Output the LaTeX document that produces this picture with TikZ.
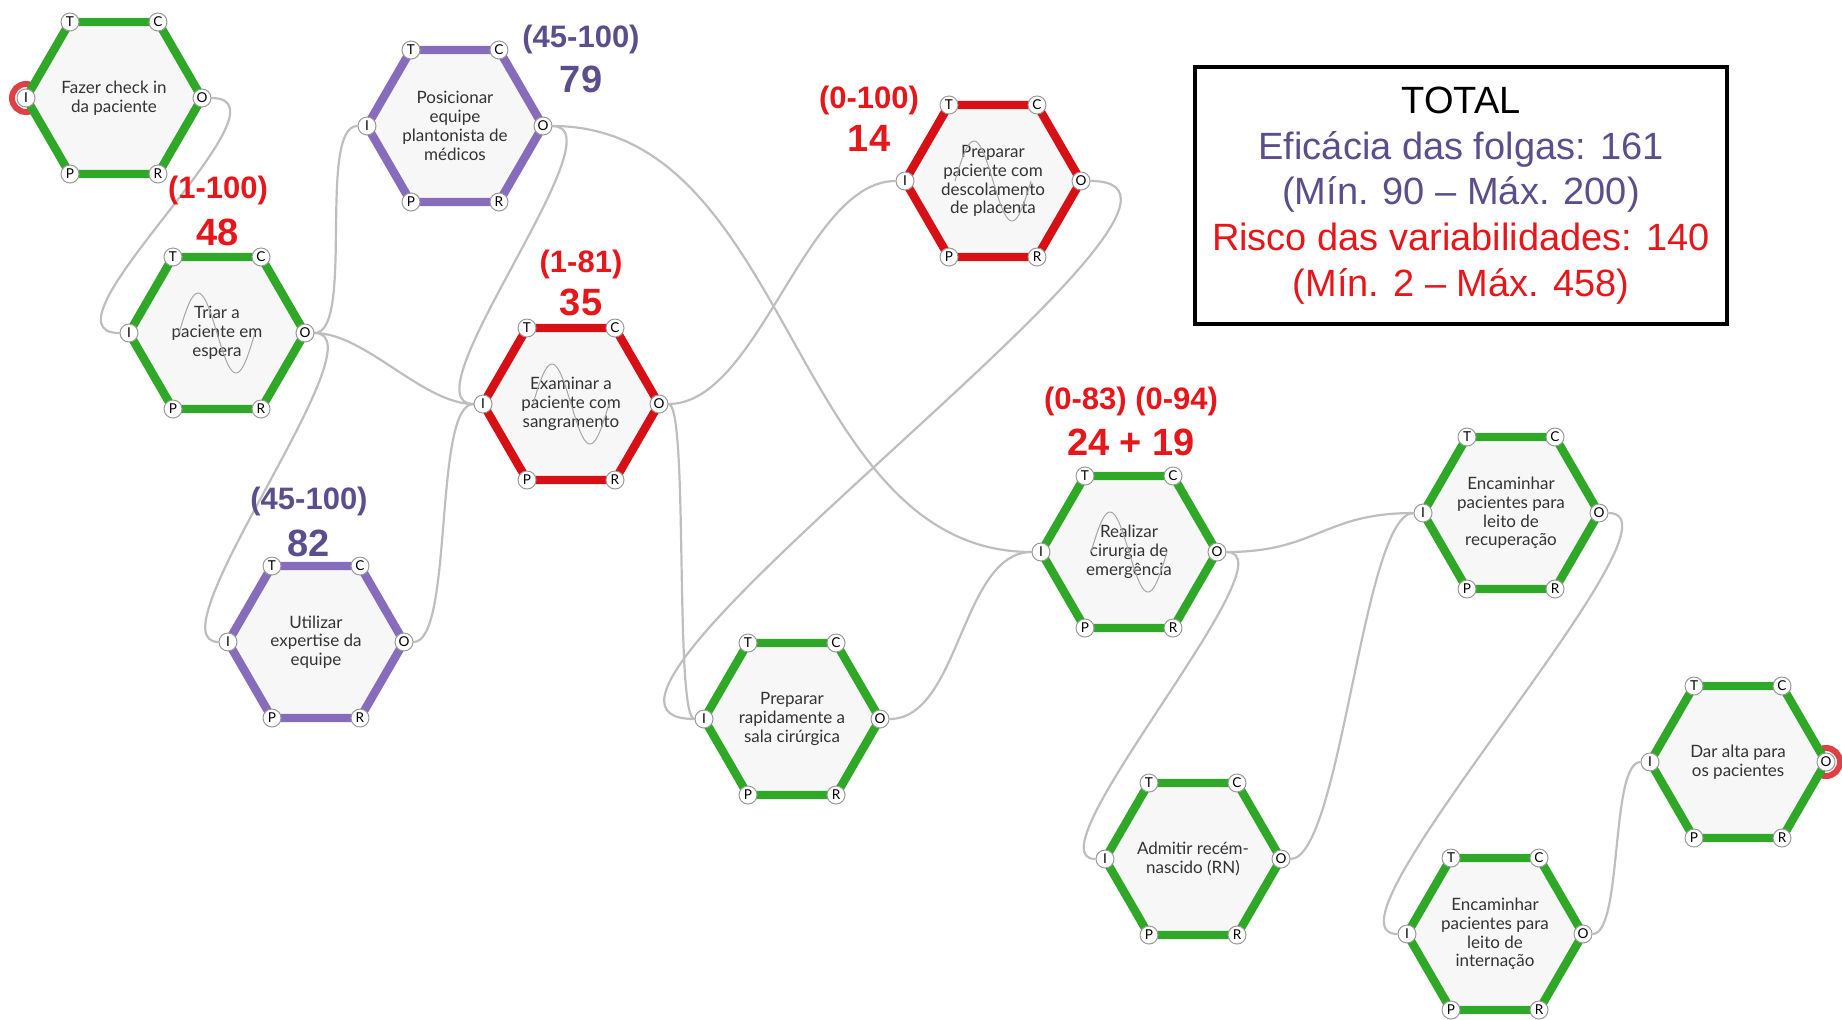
\documentclass[tikz,border=0pt]{standalone}
\usepackage{fontspec}
\setmainfont{Liberation Sans}
\newfontfamily\hexfont{Lato}
\usetikzlibrary{backgrounds}
\definecolor{hexgreen}{RGB}{46,168,38}
\definecolor{hexpurple}{RGB}{136,108,188}
\definecolor{hexred}{RGB}{214,16,20}
\definecolor{txtpurple}{RGB}{92,78,140}
\definecolor{txtred}{RGB}{230,22,26}
\definecolor{hexfill}{RGB}{247,247,247}
\definecolor{linkgray}{RGB}{190,190,190}

\begin{document}
\begin{tikzpicture}[x=0.5pt, y=-0.5pt,
    port/.style={circle, draw=gray!80, fill=white, line width=0.5pt, inner sep=0pt,
      minimum size=9pt, font=\hexfont\fontsize{6.8}{6.8}\selectfont},
    link/.style={draw=linkgray, line width=1.1pt},
    wave/.style={draw=gray!70, line width=0.5pt},
    rangetext/.style={font=\bfseries\fontsize{15.5}{15.5}\selectfont},
    scoretext/.style={font=\bfseries\fontsize{19}{19}\selectfont}]
    \useasboundingbox (0,0) rectangle (1842,1019);

    % functions (hexagons with their six aspects)
    \foreach \n/\x/\y/\c/\t in {
        fazer/114/98/hexgreen/{Fazer check in\\da paciente},
        triar/217/333/hexgreen/{Triar a\\paciente em\\espera},
        posic/455/126/hexpurple/{Posicionar\\equipe\\plantonista de\\médicos},
        util/316/642/hexpurple/{Utilizar\\expertise da\\equipe},
        exam/571/404/hexred/{Examinar a\\paciente com\\sangramento},
        placenta/993/181/hexred/{Preparar\\paciente com\\descolamento\\de placenta},
        sala/792/719/hexgreen/{Preparar\\rapidamente a\\sala cirúrgica},
        cirurgia/1129/552/hexgreen/{Realizar\\cirurgia de\\emergência},
        recup/1511/513/hexgreen/{Encaminhar\\pacientes para\\leito de\\recuperação},
        rn/1193/859/hexgreen/{Admitir recém-\\nascido (RN)},
        intern/1495/934/hexgreen/{Encaminhar\\pacientes para\\leito de\\internação},
        alta/1738/762/hexgreen/{Dar alta para\\os pacientes}}{
        \draw[draw=\c, line width=4.2pt, fill=hexfill] (\x+88,\y) -- (\x+44,\y+76) -- (\x-44,\y+76)
            -- (\x-88,\y) -- (\x-44,\y-76) -- (\x+44,\y-76) -- cycle;
        \node[align=center, text=black!80, font=\hexfont\fontsize{8.5}{9.4}\selectfont] (\n) at (\x,\y) {\t};
        \node[port] (\n-T) at (\x-44,\y-76) {T};
        \node[port] (\n-C) at (\x+44,\y-76) {C};
        \node[port] (\n-I) at (\x-88,\y) {I};
        \node[port] (\n-O) at (\x+88,\y) {O};
        \node[port] (\n-P) at (\x-44,\y+76) {P};
        \node[port] (\n-R) at (\x+44,\y+76) {R};
    }

    % variability waves
    \foreach \n in {triar,exam,placenta,cirurgia}
        \draw[wave, shift={(\n.center)}] plot[domain=-38:38, samples=50, variable=\t] ({\t},{40*sin(360*\t/76)});

    % couplings
    \begin{scope}[on background layer]
        \draw[hexred!80, line width=3pt] (fazer-I) circle[radius=7pt];
        \draw[hexred!80, line width=3pt] (alta-O) circle[radius=7pt];
        \draw[link] (fazer-O) .. controls +(100,0) and +(-100,0) .. (triar-I);
        \draw[link] (triar-O) .. controls +(50,0) and +(-50,0) .. (posic-I);
        \draw[link] (triar-O) .. controls +(60,0) and +(-60,0) .. (exam-I);
        \draw[link] (triar-O) .. controls +(80,0) and +(-80,0) .. (util-I);
        \draw[link] (posic-O) .. controls +(80,0) and +(-80,0) .. (exam-I);
        \draw[link] (posic-O) .. controls +(250,0) and +(-250,0) .. (cirurgia-I);
        \draw[link] (util-O) .. controls +(50,0) and +(-50,0) .. (exam-I);
        \draw[link] (exam-O) .. controls +(100,0) and +(-100,0) .. (placenta-I);
        \draw[link] (exam-O) .. controls +(30,0) and +(-30,0) .. (sala-I);
        \draw[link] (placenta-O) .. controls +(200,0) and +(-200,0) .. (sala-I);
        \draw[link] (sala-O) .. controls +(80,0) and +(-80,0) .. (cirurgia-I);
        \draw[link] (cirurgia-O) .. controls +(100,0) and +(-100,0) .. (recup-I);
        \draw[link] (cirurgia-O) .. controls +(80,0) and +(-80,0) .. (rn-I);
        \draw[link] (rn-O) .. controls +(60,0) and +(-60,0) .. (recup-I);
        \draw[link] (recup-O) .. controls +(100,0) and +(-100,0) .. (intern-I);
        \draw[link] (intern-O) .. controls +(40,0) and +(-40,0) .. (alta-I);
    \end{scope}

    % ranges and scores
    \node[rangetext, txtred] (triar-range) at (218,190) {(1-100)};
    \node[scoretext, txtred] (triar-score) at (218,232) {48};
    \node[rangetext, txtpurple] (posic-range) at (581,39) {(45-100)};
    \node[scoretext, txtpurple] (posic-score) at (581,79) {79};
    \node[rangetext, txtred] (exam-range) at (581,264) {(1-81)};
    \node[scoretext, txtred] (exam-score) at (581,302) {35};
    \node[rangetext, txtred] (placenta-range) at (869,100) {(0-100)};
    \node[scoretext, txtred] (placenta-score) at (869,138) {14};
    \node[rangetext, txtpurple] (util-range) at (309,501) {(45-100)};
    \node[scoretext, txtpurple] (util-score) at (309,543) {82};
    \node[rangetext, txtred] (cirurgia-range) at (1131,401) {(0-83) (0-94)};
    \node[scoretext, txtred] (cirurgia-score) at (1131,442) {24 + 19};

    % total box
    \node[draw, line width=2pt, minimum width=266pt, minimum height=128.5pt, align=center,
        font=\fontsize{19}{22.8}\selectfont] (total) at (1461,195.5)
        {\spaceskip=0.2em\relax TOTAL\\
         \textcolor{txtpurple}{Eficácia das folgas: 161}\\
         \textcolor{txtpurple}{(Mín. 90 -- Máx. 200)}\\
         \textcolor{txtred}{Risco das variabilidades: 140}\\
         \textcolor{txtred}{(Mín. 2 -- Máx. 458)}};
\end{tikzpicture}
\end{document}
